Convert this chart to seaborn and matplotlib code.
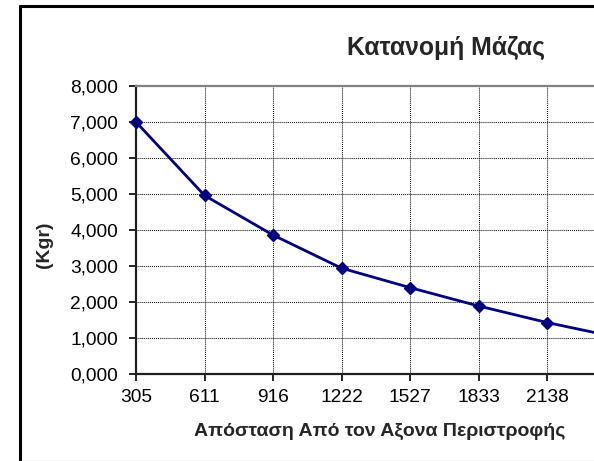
"""
    Grafico de distribuicao de massa (Κατανομή Μάζας) em estilo Excel.
"""

import numpy as np
from matplotlib import pyplot as plt
from matplotlib.lines import Line2D
import seaborn as sns

# Distancias (categorias do eixo x) e massas em Kgr
distances = ['305', '611', '916', '1222', '1527', '1833', '2138', '2444']
masses = [7.00, 4.96, 3.86, 2.94, 2.40, 1.89, 1.43, 1.03]
y_ticks = [0, 1, 2, 3, 4, 5, 6, 7, 8]

TITLE = 'Κατανομή Μάζας'
X_LABEL = 'Απόσταση Από τον Αξονα Περιστροφής'
Y_LABEL = '(Kgr)'


def graph_mass():
    """ Gera o grafico de linha com marcadores em losango """
    sns.set_style('white')
    plt.rcParams['font.family'] = ['Liberation Sans', 'DejaVu Sans']

    W, H = 594, 461
    fig = plt.figure(figsize=(W / 100, H / 100), dpi=100)

    # area do grafico: passa da borda direita (figura cortada como no original)
    left, right = 136, 136 + 8 * 68.5
    top, bottom = 86, 374
    ax = fig.add_axes([left / W, 1 - bottom / H, (right - left) / W, (bottom - top) / H])

    positions = np.arange(len(distances))
    sns.lineplot(x=positions, y=masses, ax=ax,
                 color='#000080', linewidth=2,
                 marker='D', markersize=6, markeredgecolor='#000080',
                 markeredgewidth=1, clip_on=False, zorder=5)

    ax.set_xlim(0, 8)
    ax.set_ylim(0, 8)
    # so as categorias que ficam dentro da figura recebem rotulo
    ax.set_xticks(positions[:-1])
    ax.set_xticklabels(distances[:-1])
    ax.set_yticks(y_ticks)
    ax.set_yticklabels([f"{v:.3f}".replace('.', ',') for v in y_ticks])

    ax.grid(True, color='black', linestyle=(0, (1, 1)), linewidth=0.7)
    ax.tick_params(axis='both', labelsize=13.8, colors='black', length=5,
                   width=1.2, direction='out')
    ax.tick_params(axis='y', pad=8)
    ax.tick_params(axis='x', pad=6)
    ax.xaxis.set_ticks_position('bottom')
    ax.yaxis.set_ticks_position('left')

    ax.spines['left'].set_color('#202020')
    ax.spines['left'].set_linewidth(1.6)
    ax.spines['bottom'].set_color('#202020')
    ax.spines['bottom'].set_linewidth(1.6)
    ax.spines['top'].set_color('#808080')
    ax.spines['top'].set_linewidth(1.6)
    ax.spines['right'].set_visible(False)

    # titulos
    fig.text(446 / W, 1 - 48 / H, TITLE, ha='center', va='center',
             fontsize=17.8, fontweight='bold')
    fig.text(380 / W, 1 - 431 / H, X_LABEL, ha='center', va='center',
             fontsize=14, fontweight='bold')
    fig.text(45 / W, 1 - 245 / H, Y_LABEL, ha='center', va='center',
             fontsize=14, fontweight='bold', rotation=90)

    # moldura da area do grafico
    fig.add_artist(Line2D([20 / W, 20 / W], [0, 1 - 6 / H], color='black', linewidth=2.2))
    fig.add_artist(Line2D([20 / W, 1], [1 - 6 / H, 1 - 6 / H], color='black', linewidth=2.2))
    fig.add_artist(Line2D([20 / W, 1], [0.5 / H, 0.5 / H], color='#c8c8c8', linewidth=1))

    fig.savefig('out.png', dpi=100)


if __name__ == '__main__':
    graph_mass()
